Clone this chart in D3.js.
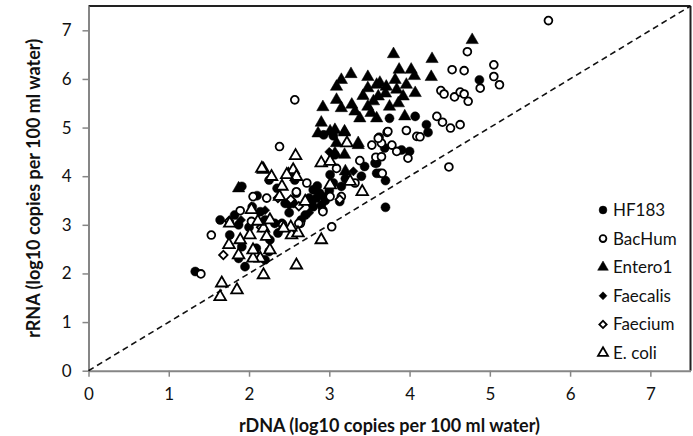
<!DOCTYPE html>
<html><head><meta charset="utf-8">
<script src="https://cdn.jsdelivr.net/npm/d3@7"></script>
<style>body{margin:0;background:#fff}svg{display:block;font-family:Lato,"Liberation Sans",sans-serif}</style>
</head><body><svg id="c" width="693" height="436"></svg>
<script>
const seriesNames = ["HF183","BacHum","Entero1","Faecalis","Faecium","E. coli"];
const xTicks = [0,1,2,3,4,5,6,7];
const yTicks = [0,1,2,3,4,5,6,7];
const HF183 = [[1.33,2.04],[1.64,3.10],[1.82,3.20],[1.87,3.00],[1.76,2.79],[1.91,2.55],[1.87,2.31],[1.95,2.14],[1.91,3.79],[2.04,3.37],[2.14,3.27],[2.09,2.52],[2.20,2.28],[2.25,2.45],[2.26,2.69],[2.32,3.03],[2.41,3.03],[2.36,2.83],[2.25,3.92],[2.57,3.92],[2.45,3.44],[2.55,3.44],[2.59,3.65],[2.80,3.72],[2.84,3.55],[2.80,3.37],[2.88,3.65],[2.95,3.50],[3.01,4.03],[3.05,3.86],[3.15,3.79],[3.13,3.48],[3.07,4.44],[3.44,4.20],[3.59,4.27],[3.59,4.06],[3.70,3.91],[3.63,4.06],[3.57,4.27],[3.69,4.58],[3.90,4.54],[4.00,4.51],[4.23,4.90],[4.21,5.06],[3.75,5.19],[4.07,5.23],[4.87,5.98],[3.70,3.36],[2.93,4.85],[3.05,4.83],[2.70,3.20],[2.75,3.55],[2.90,3.40],[2.98,3.60],[2.65,3.10],[2.50,3.25],[2.20,3.10],[2.00,2.95],[2.10,3.60],[2.35,3.75],[3.20,3.95],[3.40,4.00],[2.85,3.80],[2.92,3.30],[3.00,3.70],[2.78,3.45]];
const BacHum = [[1.40,1.99],[1.53,2.79],[1.89,3.29],[2.03,3.07],[2.05,3.58],[2.22,3.55],[2.38,4.61],[2.57,5.57],[2.59,3.68],[2.64,3.03],[2.72,3.86],[2.92,3.27],[3.03,2.96],[3.01,3.58],[3.15,3.58],[3.09,4.16],[3.32,3.86],[3.38,4.32],[3.58,4.39],[3.65,4.40],[3.66,4.06],[3.53,4.64],[3.62,4.80],[3.72,4.90],[3.65,4.68],[3.78,4.64],[3.84,4.51],[3.98,4.37],[3.96,4.94],[4.09,4.82],[3.61,4.78],[3.73,4.92],[4.13,4.81],[4.34,5.23],[4.41,5.11],[4.51,4.99],[4.63,5.06],[4.39,5.76],[4.43,5.69],[4.56,5.63],[4.63,5.73],[4.68,5.69],[4.73,5.54],[4.53,6.19],[4.68,6.17],[4.72,6.56],[5.05,6.29],[5.05,6.05],[5.12,5.88],[4.88,5.81],[5.73,7.20],[4.49,4.19],[2.62,3.03],[2.42,3.00]];
const Entero1 = [[4.78,6.80],[3.80,6.51],[4.28,6.41],[3.27,6.10],[3.15,5.98],[3.09,5.84],[3.48,6.04],[3.87,6.19],[4.02,6.19],[4.06,6.06],[4.27,6.04],[3.82,5.98],[3.96,5.88],[3.48,5.81],[3.59,5.88],[3.63,5.92],[3.71,5.84],[3.61,5.64],[3.84,5.78],[3.92,5.64],[4.07,5.71],[3.09,5.57],[3.15,5.40],[2.92,5.42],[3.28,5.47],[3.32,5.33],[3.48,5.43],[3.55,5.54],[3.38,5.19],[3.59,5.19],[3.75,5.43],[3.86,5.50],[3.94,5.23],[2.90,5.10],[2.86,4.88],[3.01,4.92],[3.07,4.95],[3.19,4.92],[3.36,4.68],[3.09,4.68],[1.87,3.75],[3.19,4.44],[3.20,4.10],[3.36,4.64],[3.07,4.47],[3.19,4.90],[3.42,5.65],[3.70,5.70],[3.52,5.30]];
const Faecalis = [[2.50,3.40],[2.20,3.30],[3.00,4.50],[2.90,3.60],[3.30,4.10],[2.40,2.90],[1.90,3.10],[2.75,3.25]];
const Faecium = [[1.68,2.38],[2.36,3.55],[2.52,3.52],[2.62,3.38],[1.75,3.08],[2.15,2.95],[3.13,3.52]];
const Ecoli = [[1.64,1.52],[1.66,1.80],[1.85,1.66],[2.18,1.97],[2.59,2.17],[2.90,2.69],[2.53,2.79],[2.61,2.83],[2.52,2.95],[2.43,2.93],[2.26,2.48],[2.14,2.31],[2.05,2.31],[2.05,2.48],[1.87,2.38],[1.75,2.59],[1.89,2.69],[2.01,2.79],[2.18,2.93],[2.22,2.76],[2.26,3.10],[2.11,3.07],[2.03,3.31],[1.76,3.03],[2.38,3.58],[2.41,3.79],[2.49,4.03],[2.28,3.99],[2.18,4.14],[2.55,4.13],[2.59,3.99],[2.58,4.42],[2.16,4.16],[2.90,4.27],[3.01,4.30],[2.70,3.48],[3.01,3.82],[3.26,3.89],[3.41,3.68],[2.47,4.03],[3.22,4.68]];

const seriesData = [HF183,BacHum,Entero1,Faecalis,Faecium,Ecoli];
const shapes = [d3.symbolCircle,d3.symbolCircle,d3.symbolTriangle,d3.symbolSquare,d3.symbolSquare,d3.symbolTriangle];
const rot = [0,0,0,45,45,0];
const filled = [true,false,true,true,false,false];
const sizes = [64,48,66,42,36,58];

const svg = d3.select("#c");
const m = {l:88.5,r:690.5,t:6,b:370.7};
const x = d3.scaleLinear().domain([0,7.5]).range([m.l,m.r]);
const y = d3.scaleLinear().domain([0,7.5]).range([m.b,m.t]);

// borders
svg.append("line").attr("x1",m.l).attr("x2",m.r).attr("y1",m.t).attr("y2",m.t).attr("stroke","#222").attr("stroke-width",2);
svg.append("line").attr("x1",m.r).attr("x2",m.r).attr("y1",m.t).attr("y2",m.b).attr("stroke","#222").attr("stroke-width",2);

const gx = svg.append("g").attr("transform",`translate(0,${m.b})`)
  .call(d3.axisBottom(x).tickValues(xTicks).tickSize(6).tickPadding(11).tickSizeOuter(0));
const gy = svg.append("g").attr("transform",`translate(${m.l},0)`)
  .call(d3.axisLeft(y).tickValues(yTicks).tickSize(6).tickPadding(11).tickSizeOuter(0));
[gx,gy].forEach(g=>{
  g.select(".domain").attr("stroke","#868686").attr("stroke-width",2);
  g.selectAll(".tick line").attr("stroke","#868686").attr("stroke-width",1.5);
  g.selectAll("text").attr("fill","#111").attr("font-size",17).attr("font-family","Lato,sans-serif");
});

// 1:1 line
svg.append("line").attr("x1",x(0)).attr("y1",y(0)).attr("x2",x(7.5)).attr("y2",y(7.5))
  .attr("stroke","#111").attr("stroke-width",1.6).attr("stroke-dasharray","6,4");

function markerAttrs(sel,i,scale){
  sel.attr("d",d3.symbol().type(shapes[i]).size(sizes[i]*scale))
    .attr("fill",filled[i]?"#000":"#fff")
    .attr("stroke","#000").attr("stroke-width",filled[i]?0.5:1.8);
}
// points
seriesData.forEach((data,i)=>{
  svg.append("g").selectAll("path").data(data).join("path")
    .attr("transform",d=>`translate(${x(d[0])},${y(d[1])}) rotate(${rot[i]})`)
    .call(markerAttrs,i,1);
});

// axis titles
svg.append("text").attr("x",(m.l+m.r)/2).attr("y",432).attr("text-anchor","middle")
  .attr("font-weight","bold").attr("font-size",18).attr("fill","#111")
  .text("rDNA (log10 copies per 100 ml water)");
svg.append("text").attr("transform",`translate(40,${(m.t+m.b)/2}) rotate(-90)`).attr("text-anchor","middle")
  .attr("font-weight","bold").attr("font-size",18).attr("fill","#111")
  .text("rRNA (log10 copies per 100 ml water)");

// legend
const lg = svg.append("g");
seriesNames.forEach((n,i)=>{
  const yy = 210 + i*28.6;
  lg.append("path").attr("transform",`translate(603,${yy}) rotate(${rot[i]})`).call(markerAttrs,i,0.75);
  lg.append("text").attr("x",613).attr("y",yy+6).attr("font-size",17).attr("fill","#111").text(n);
});
</script></body></html>
